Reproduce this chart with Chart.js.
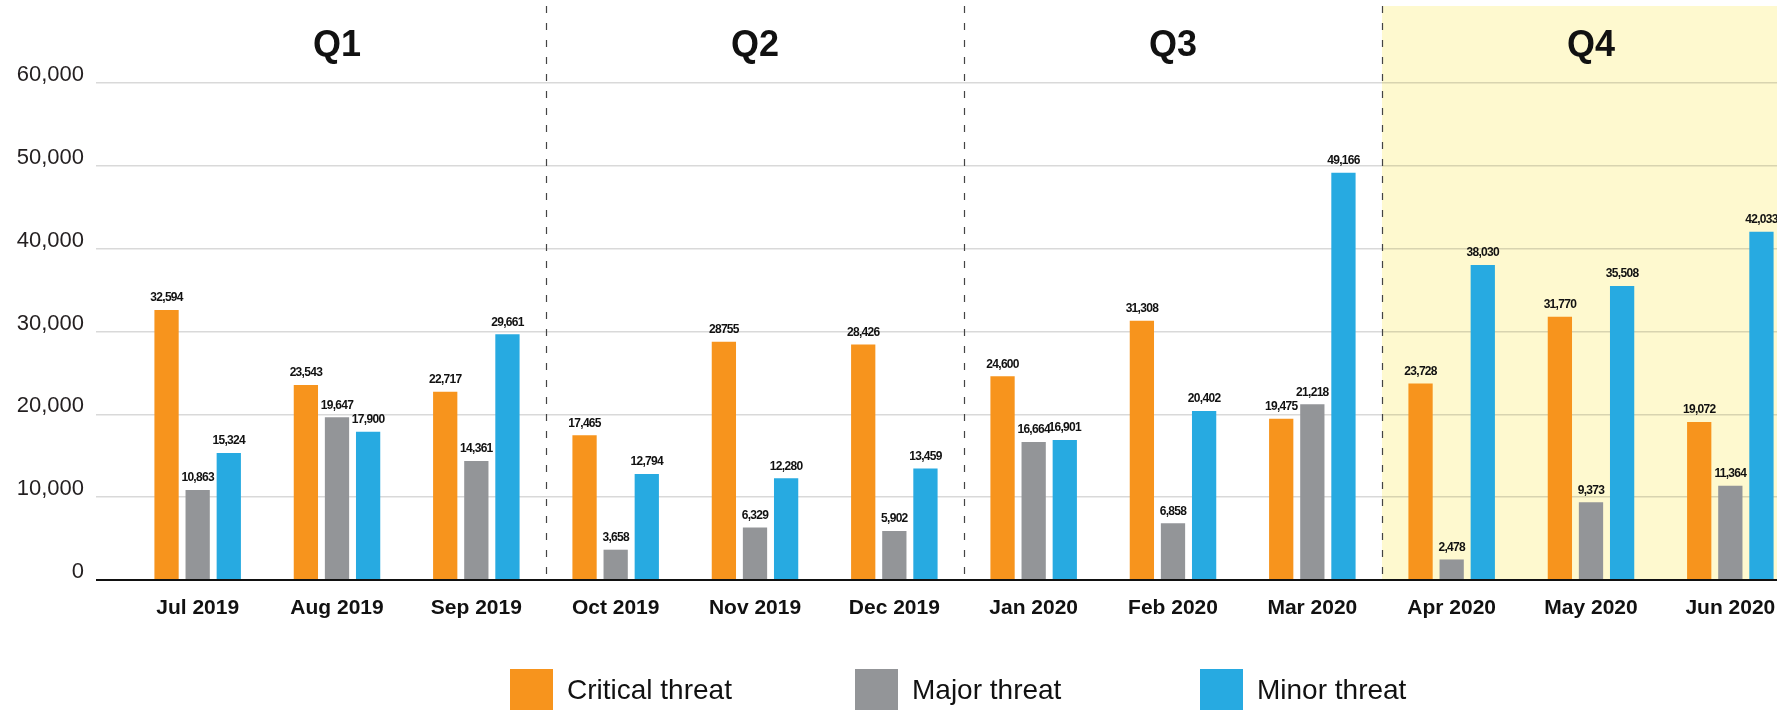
<!DOCTYPE html>
<html>
<head>
<meta charset="utf-8">
<title>Threats by month</title>
<script src="https://cdn.jsdelivr.net/npm/chart.js@4.4.1/dist/chart.umd.min.js"></script>
<style>
  html, body { margin: 0; padding: 0; background: #fff; overflow: hidden; }
  #wrap { position: relative; width: 1777px; height: 710px; overflow: hidden; }
  #myChart { position: absolute; left: 0; top: 0; }
  #legend { position: absolute; left: 510px; top: 669px; display: flex; font-family: 'Liberation Sans', Arial, sans-serif; }
  .item { width: 345px; display: flex; align-items: flex-start; }
  .box { width: 43px; height: 45px; }
  .txt { margin-left: 14px; font-size: 28px; line-height: 41px; color: #111; }
</style>
</head>
<body>
<div id="wrap">
  <canvas id="myChart" width="1800" height="710"></canvas>
  <div id="legend"></div>
</div>
<script>
'use strict';
//data
let months = ['Jul 2019', 'Aug 2019', 'Sep 2019', 'Oct 2019', 'Nov 2019', 'Dec 2019', 'Jan 2020', 'Feb 2020', 'Mar 2020', 'Apr 2020', 'May 2020', 'Jun 2020'];
let quarters = ['Q1', 'Q2', 'Q3', 'Q4'];
let critical = [32594, 23543, 22717, 17465, 28755, 28426, 24600, 31308, 19475, 23728, 31770, 19072];
let major = [10863, 19647, 14361, 3658, 6329, 5902, 16664, 6858, 21218, 2478, 9373, 11364];
let minor = [15324, 17900, 29661, 12794, 12280, 13459, 16901, 20402, 49166, 38030, 35508, 42033];
let yTicks = [0, 10000, 20000, 30000, 40000, 50000, 60000];
// the source prints this one value without a thousands comma (dataset, month)
let plainLabels = [[0, 4]];

let chartEl = document.getElementById('myChart');
let ctx = chartEl.getContext('2d');
let font = "'Liberation Sans', Arial, sans-serif";

function fmt(v) {
  return v.toLocaleString('en-US');
}

// yellow band behind Q4 and the dashed quarter dividers
let quarterPlugin = {
  id: 'quarters',
  beforeDraw: function (chart) {
    let x = chart.scales.x;
    let area = chart.chartArea;
    let c = chart.ctx;
    let start = (x.getPixelForValue(8) + x.getPixelForValue(9)) / 2;
    c.save();
    c.fillStyle = '#fef9cf';
    c.fillRect(start, area.top - 77, chart.width - start, area.bottom - area.top + 77);
    c.restore();
  },
  afterDraw: function (chart) {
    let x = chart.scales.x;
    let area = chart.chartArea;
    let c = chart.ctx;
    c.save();
    c.strokeStyle = '#444';
    c.lineWidth = 1.2;
    c.setLineDash([7, 10]);
    for (let q = 1; q < quarters.length; q++) {
      let px = Math.round((x.getPixelForValue(q * 3 - 1) + x.getPixelForValue(q * 3)) / 2) + 0.5;
      c.beginPath();
      c.moveTo(px, area.top - 77);
      c.lineTo(px, area.bottom);
      c.stroke();
    }
    c.setLineDash([]);
    c.fillStyle = '#111';
    c.font = 'bold 36px ' + font;
    c.textAlign = 'center';
    c.textBaseline = 'middle';
    for (let q = 0; q < quarters.length; q++) {
      c.fillText(quarters[q], x.getPixelForValue(q * 3 + 1), area.top - 37);
    }
    c.restore();
  }
};

// value labels above every bar
let valuePlugin = {
  id: 'values',
  afterDatasetsDraw: function (chart) {
    let c = chart.ctx;
    c.save();
    c.fillStyle = '#111';
    c.font = 'bold 12px ' + font;
    c.letterSpacing = '-0.7px';
    c.textAlign = 'center';
    c.textBaseline = 'bottom';
    chart.data.datasets.forEach(function (ds, d) {
      let meta = chart.getDatasetMeta(d);
      meta.data.forEach(function (bar, i) {
        let plain = plainLabels.some(function (p) { return p[0] === d && p[1] === i; });
        let text = plain ? String(ds.data[i]) : fmt(ds.data[i]);
        c.fillText(text, bar.x, bar.y - 6);
      });
    });
    c.restore();
  }
};

let chart = new Chart(ctx, {
  type: 'bar',
  data: {
    labels: months,
    datasets: [{
      label: 'Critical threat',
      data: critical,
      backgroundColor: '#f7941d'
    }, {
      label: 'Major threat',
      data: major,
      backgroundColor: '#939598'
    }, {
      label: 'Minor threat',
      data: minor,
      backgroundColor: '#27aae1'
    }]
  },
  options: {
    responsive: false,
    animation: false,
    devicePixelRatio: 1,
    categoryPercentage: 0.67,
    barPercentage: 0.78,
    layout: { padding: { top: 83, left: 0, right: 0, bottom: 0 } },
    plugins: {
      legend: { display: false },
      tooltip: { enabled: false }
    },
    scales: {
      x: {
        grid: { display: false },
        border: { display: false },
        ticks: {
          color: '#111',
          padding: 8,
          maxRotation: 0,
          autoSkip: false,
          font: { family: font, size: 21, weight: 'bold' }
        },
        afterFit: function (scale) { scale.height = 130; }
      },
      y: {
        min: 0,
        max: yTicks[yTicks.length - 1],
        afterBuildTicks: function (scale) {
          scale.ticks = yTicks.map(function (v) { return { value: v }; });
        },
        border: { display: false },
        grid: {
          color: function (c) { return c.tick.value === 0 ? '#111' : 'rgba(0,0,0,0.15)'; },
          tickColor: function (c) { return c.tick.value === 0 ? '#111' : 'rgba(0,0,0,0.15)'; },
          lineWidth: function (c) { return c.tick.value === 0 ? 2 : 1.5; },
          tickWidth: function (c) { return c.tick.value === 0 ? 2 : 1.5; },
          tickLength: 32
        },
        ticks: {
          color: '#231f20',
          padding: 12,
          labelOffset: -8,
          font: { family: font, size: 22 },
          callback: function (v) { return fmt(v); }
        },
        afterFit: function (scale) { scale.width = 128; }
      }
    }
  },
  plugins: [quarterPlugin, valuePlugin]
});

// legend drawn as html under the plot
let legendEl = document.getElementById('legend');
chart.data.datasets.forEach(function (ds) {
  let item = document.createElement('div');
  item.className = 'item';
  item.innerHTML = '<div class="box" style="background:' + ds.backgroundColor + '"></div><div class="txt">' + ds.label + '</div>';
  legendEl.appendChild(item);
});
</script>
</body>
</html>
